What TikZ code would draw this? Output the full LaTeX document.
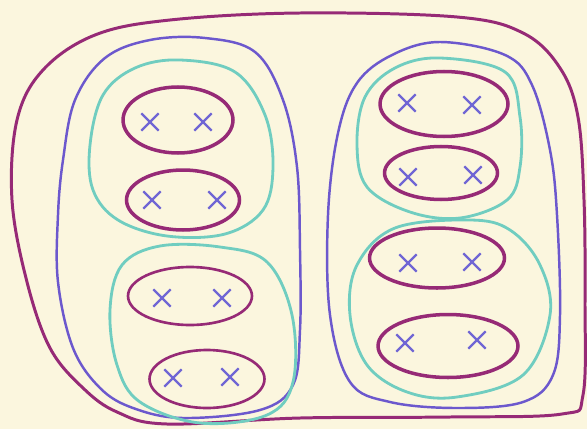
\documentclass[tikz,border=0pt]{standalone}
\usepackage{xcolor}
\usepackage{tikz}
\usetikzlibrary{shapes.geometric,shapes.misc}
\definecolor{PaperTone}{RGB}{251,246,222}
\definecolor{InkMagenta}{RGB}{150,42,118}
\definecolor{InkBlue}{RGB}{108,88,205}
\definecolor{InkCyan}{RGB}{112,205,192}
\definecolor{InkCross}{RGB}{112,102,212}
\tikzset{
  outerloop/.style={draw=InkMagenta, line width=1.7pt},
  blockloop/.style={draw=InkBlue, line width=1.4pt},
  groupline/.style={draw=InkCyan, line width=1.6pt},
  pair/.style={ellipse, draw=InkMagenta, line width=2pt, inner sep=0pt},
  xmark/.style={cross out, draw=InkCross, line width=1.3pt, minimum size=0.3cm, inner sep=0pt}
}

\begin{document}
\begin{tikzpicture}[x=0.02cm, y=-0.02cm]
  \fill[PaperTone] (0,0) rectangle (587,429);
  \useasboundingbox (0,0) rectangle (587,429);

  \draw[outerloop] plot[smooth cycle, tension=0.6] coordinates {(300,13) (457,17) (523,33) (560,68) (578,117) (584,200) (585,300) (583,395) (562,414) (450,417) (300,418) (167,424) (117,412) (83,388) (50,348) (27,282) (12,200) (17,120) (43,70) (95,35) (170,20)};

  \draw[blockloop] plot[smooth cycle, tension=0.6] coordinates {(205,38) (255,52) (283,100) (297,167) (300,250) (300,330) (293,385) (260,410) (183,418) (133,408) (100,388) (73,348) (58,282) (58,215) (63,160) (75,100) (105,58) (150,40)};
  \draw[blockloop] plot[smooth cycle, tension=0.6] coordinates {(440,42) (505,55) (532,85) (550,150) (557,215) (560,315) (553,375) (523,402) (457,408) (390,402) (350,382) (330,315) (328,215) (338,133) (357,83) (392,55)};

  \draw[groupline] plot[smooth cycle, tension=0.6] coordinates {(180,60) (235,72) (265,115) (273,167) (263,210) (225,234) (167,236) (118,220) (93,190) (90,145) (103,95) (135,68)};
  \draw[groupline] plot[smooth cycle, tension=0.6] coordinates {(160,246) (220,247) (267,262) (292,315) (293,382) (267,415) (200,423) (140,402) (117,365) (110,310) (122,265)};
  \draw[groupline] plot[smooth cycle, tension=0.6] coordinates {(440,58) (505,72) (520,117) (520,167) (507,200) (460,218) (410,212) (367,187) (357,145) (365,97) (395,68)};
  \draw[groupline] plot[smooth cycle, tension=0.6] coordinates {(470,220) (510,230) (540,265) (550,315) (523,375) (457,397) (407,392) (367,365) (350,315) (357,265) (395,228)};

  \node[pair, minimum width=2.2cm, minimum height=1.32cm] (l1) at (178,120) {};
  \node[pair, minimum width=2.26cm, minimum height=1.2cm] (l2) at (183,200) {};
  \node[pair, minimum width=2.48cm, minimum height=1.16cm, line width=1.5pt] (l3) at (190,296) {};
  \node[pair, minimum width=2.3cm, minimum height=1.16cm, line width=1.5pt] (l4) at (207,379) {};
  \node[pair, minimum width=2.56cm, minimum height=1.3cm] (r1) at (444,104) {};
  \node[pair, minimum width=2.26cm, minimum height=1.06cm] (r2) at (441,173) {};
  \node[pair, minimum width=2.7cm, minimum height=1.2cm] (r3) at (437,258) {};
  \node[pair, minimum width=2.8cm, minimum height=1.26cm] (r4) at (448,346) {};

  \node[xmark] (l1a) at (150,122) {};
  \node[xmark] (l1b) at (203,122) {};
  \node[xmark] (l2a) at (152,200) {};
  \node[xmark] (l2b) at (217,200) {};
  \node[xmark] (l3a) at (162,298) {};
  \node[xmark] (l3b) at (222,298) {};
  \node[xmark] (l4a) at (173,378) {};
  \node[xmark] (l4b) at (230,377) {};
  \node[xmark] (r1a) at (407,103) {};
  \node[xmark] (r1b) at (472,105) {};
  \node[xmark] (r2a) at (408,177) {};
  \node[xmark] (r2b) at (473,175) {};
  \node[xmark] (r3a) at (408,263) {};
  \node[xmark] (r3b) at (472,262) {};
  \node[xmark] (r4a) at (405,343) {};
  \node[xmark] (r4b) at (477,340) {};
\end{tikzpicture}
\end{document}
